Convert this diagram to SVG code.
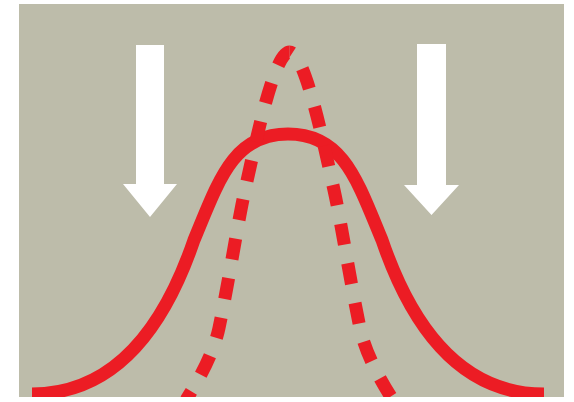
<svg xmlns="http://www.w3.org/2000/svg" width="574" height="402" viewBox="0 0 574 402">
  <defs>
    <clipPath id="panel">
      <rect x="19" y="4" width="545" height="393"/>
    </clipPath>
    <style>
      .arrow { fill: #ffffff; }
      .curve { fill: none; stroke: #ec1c24; stroke-width: 13; }
      .dashed { stroke-dasharray: 21 19; stroke-linecap: butt; }
    </style>
  </defs>
  <rect x="0" y="0" width="574" height="402" fill="#ffffff"/>
  <rect id="panel-bg" x="19" y="4" width="545" height="393" fill="#bdbcaa"/>
  <g id="arrow-left">
    <polygon class="arrow" points="136,45 164,45 164,184 177,184 150,217 123,184 136,184"/>
  </g>
  <g id="arrow-right">
    <polygon class="arrow" points="417,44 446,44 446,185 459,185 431.5,215 404,185 417,185"/>
  </g>
  <g id="curves" clip-path="url(#panel)">
    <path id="solid-curve" class="curve" d="M 32,394 C 116,394 165,325 194,240 C 219,180 233,134 288,134 C 343,134 357,180 382,240 C 411,325 460,394 544,394"/>
    <path id="dashed-right" class="curve dashed" stroke-dashoffset="18" d="M 289.5,52 C 304.5,52 322,136 334,190 C 341,221.5 350,280 360,328 C 365,352 380,380 393,400"/>
    <path id="dashed-left" class="curve dashed" stroke-dashoffset="3" d="M 289.5,52 C 274.5,52 257,136 245,190 C 238,221.5 229,280 219,328 C 214,352 199,380 186,400"/>
  </g>
</svg>
